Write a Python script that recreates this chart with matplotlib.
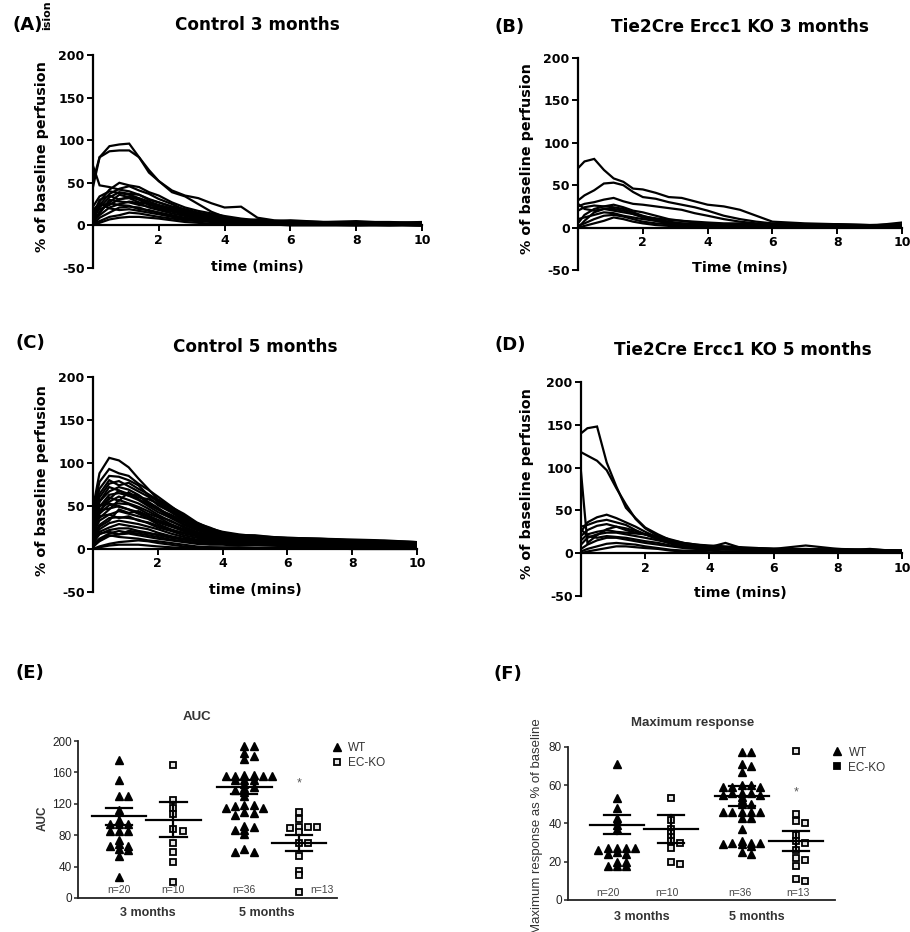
import numpy as np
import matplotlib
matplotlib.use("Agg")
import matplotlib.pyplot as plt
from matplotlib.lines import Line2D

# sampling times (mins) for the perfusion traces
time_min = [0, 0.2, 0.5, 0.8, 1.1, 1.4, 1.7, 2.0, 2.4, 2.8, 3.2, 3.6,
            4.0, 4.5, 5.0, 5.5, 6.0, 7.0, 8.0, 9.0, 10.0]

# (A) control 3 months
ctrl_3m = [
    [45, 80, 93, 95, 96, 80, 65, 52, 41, 35, 32, 26, 21, 22, 9, 6, 5, 4, 3, 3, 2],
    [52, 80, 87, 88, 88, 80, 62, 52, 39, 34, 25, 16, 10, 7, 5, 4, 4, 3, 2, 3, 1],
    [70, 47, 45, 42, 40, 36, 31, 27, 22, 19, 15, 12, 9, 6, 5, 4, 3, 3, 2, 2, 1],
    [5, 28, 42, 50, 47, 45, 39, 35, 27, 21, 17, 14, 11, 8, 6, 5, 4, 3, 3, 2, 2],
    [3, 24, 37, 43, 46, 41, 37, 31, 25, 18, 14, 12, 9, 7, 5, 4, 3, 2, 3, 2, 1],
    [9, 21, 33, 39, 37, 36, 30, 27, 22, 17, 12, 10, 8, 6, 5, 4, 3, 3, 2, 1, 2],
    [2, 16, 27, 36, 33, 31, 26, 23, 19, 14, 11, 9, 6, 5, 4, 3, 3, 2, 2, 2, 1],
    [11, 19, 24, 31, 32, 27, 25, 20, 17, 12, 10, 7, 6, 5, 4, 3, 3, 2, 1, 2, 1],
    [4, 12, 21, 25, 28, 26, 21, 18, 14, 11, 8, 6, 5, 4, 3, 3, 2, 2, 1, 1, 0],
    [16, 23, 26, 24, 23, 19, 18, 15, 12, 9, 7, 6, 4, 3, 3, 2, 2, 1, 1, 1, 0],
    [1, 9, 15, 21, 22, 21, 17, 15, 11, 8, 6, 5, 4, 3, 2, 2, 1, 1, 1, 0, 1],
    [2, 5, 10, 12, 15, 14, 12, 10, 8, 6, 5, 4, 3, 2, 2, 1, 1, 1, 0, 1, 0],
    [0, 3, 7, 9, 10, 10, 9, 8, 6, 4, 3, 2, 2, 1, 1, 1, 0, 0, 0, 0, 0],
    [22, 34, 40, 38, 36, 32, 28, 24, 20, 16, 13, 11, 8, 6, 5, 4, 3, 3, 2, 2, 1],
    [12, 30, 35, 30, 34, 30, 24, 22, 18, 15, 12, 9, 7, 6, 7, 5, 6, 4, 5, 3, 4],
    [6, 14, 30, 28, 27, 24, 22, 19, 16, 13, 9, 8, 7, 5, 6, 4, 5, 3, 4, 4, 3],
    [18, 26, 20, 18, 19, 17, 15, 13, 10, 7, 6, 5, 5, 4, 4, 3, 4, 2, 3, 2, 3],
]

# (B) Tie2Cre Ercc1 KO 3 months
ko_3m = [
    [70, 78, 81, 68, 58, 54, 46, 45, 41, 36, 35, 31, 27, 25, 21, 14, 7, 5, 4, 3, 4],
    [32, 38, 44, 52, 53, 50, 42, 36, 34, 30, 27, 24, 20, 14, 10, 7, 5, 4, 4, 3, 3],
    [25, 28, 30, 33, 35, 31, 28, 27, 25, 23, 21, 17, 14, 10, 7, 5, 4, 3, 3, 2, 2],
    [20, 24, 26, 25, 27, 24, 20, 18, 14, 10, 8, 6, 5, 4, 4, 3, 3, 2, 2, 2, 1],
    [5, 15, 22, 25, 24, 22, 18, 14, 10, 7, 5, 4, 4, 3, 3, 3, 2, 2, 2, 1, 1],
    [0, 8, 18, 22, 22, 20, 16, 12, 8, 5, 4, 3, 3, 2, 2, 2, 1, 1, 1, 1, 0],
    [10, 12, 15, 18, 17, 14, 12, 10, 8, 6, 5, 4, 3, 3, 2, 2, 2, 1, 1, 1, 0],
    [2, 5, 10, 14, 15, 13, 10, 7, 5, 4, 3, 3, 2, 2, 2, 1, 1, 1, 1, 0, 0],
    [0, 2, 5, 8, 12, 10, 7, 5, 3, 2, 2, 1, 1, 1, 1, 1, 0, 0, 0, 0, 0],
    [28, 22, 20, 22, 20, 18, 16, 13, 11, 9, 8, 7, 6, 5, 5, 4, 4, 3, 3, 2, 6],
]

# (C) control 5 months
ctrl_5m = [
    [48, 88, 106, 103, 95, 82, 70, 58, 49, 41, 31, 24, 20, 17, 15, 14, 13, 12, 10, 9, 8],
    [44, 78, 93, 88, 85, 76, 69, 61, 50, 39, 30, 25, 19, 16, 15, 13, 12, 11, 10, 9, 7],
    [40, 70, 85, 84, 80, 74, 63, 55, 45, 37, 28, 22, 18, 16, 14, 12, 12, 10, 9, 8, 7],
    [35, 60, 76, 79, 73, 67, 61, 51, 43, 33, 27, 21, 17, 14, 13, 11, 10, 9, 9, 7, 6],
    [31, 55, 67, 72, 69, 63, 55, 48, 38, 31, 24, 19, 16, 13, 12, 10, 10, 8, 8, 7, 5],
    [28, 49, 63, 65, 62, 57, 50, 43, 36, 28, 22, 18, 14, 12, 11, 9, 9, 8, 7, 6, 5],
    [25, 45, 55, 61, 57, 53, 47, 40, 32, 26, 20, 16, 13, 11, 10, 9, 8, 7, 6, 5, 5],
    [22, 41, 51, 53, 52, 47, 41, 37, 29, 23, 18, 15, 12, 10, 9, 8, 7, 7, 6, 5, 4],
    [52, 45, 47, 50, 46, 43, 38, 32, 27, 21, 16, 13, 11, 10, 8, 7, 7, 6, 5, 5, 4],
    [18, 33, 40, 44, 41, 38, 35, 29, 23, 18, 15, 12, 10, 9, 8, 7, 6, 5, 5, 4, 3],
    [15, 28, 36, 37, 36, 34, 30, 25, 21, 16, 13, 11, 9, 8, 7, 6, 6, 5, 4, 4, 3],
    [12, 23, 30, 33, 31, 29, 26, 23, 18, 14, 11, 10, 8, 7, 6, 6, 5, 4, 4, 3, 3],
    [10, 20, 25, 29, 27, 25, 23, 19, 15, 12, 10, 8, 7, 6, 6, 5, 5, 4, 3, 3, 2],
    [8, 17, 22, 24, 24, 21, 19, 16, 13, 11, 9, 7, 6, 6, 5, 5, 4, 4, 3, 3, 2],
    [5, 12, 18, 21, 19, 18, 16, 14, 11, 9, 7, 6, 6, 5, 5, 4, 4, 3, 3, 2, 2],
    [3, 9, 15, 17, 18, 16, 14, 12, 10, 8, 6, 5, 5, 4, 4, 4, 3, 3, 2, 2, 2],
    [2, 10, 16, 14, 13, 12, 10, 9, 7, 5, 3, 2, 2, 2, 1, 1, 1, 1, 1, 1, 1],
    [0, 3, 6, 8, 9, 10, 9, 7, 5, 3, 2, 2, 1, 1, 1, 1, 1, 1, 0, 0, 0],
    [10, 42, 60, 56, 66, 58, 52, 46, 37, 29, 23, 18, 15, 13, 12, 11, 10, 9, 8, 7, 6],
    [55, 50, 53, 49, 46, 41, 36, 31, 26, 21, 17, 14, 12, 11, 10, 9, 9, 8, 7, 7, 6],
    [20, 55, 72, 68, 62, 60, 58, 53, 44, 35, 26, 20, 17, 15, 14, 13, 12, 11, 10, 9, 8],
    [0, 2, 4, 5, 5, 5, 4, 3, 2, 1, 1, 1, 1, 1, 1, 1, 1, 1, 1, 1, 1],
    [38, 64, 80, 74, 77, 70, 64, 57, 47, 38, 29, 23, 19, 16, 16, 14, 13, 12, 11, 10, 8],
    [30, 50, 58, 68, 64, 62, 53, 46, 40, 32, 25, 21, 17, 15, 13, 12, 11, 10, 9, 8, 6],
    [26, 36, 46, 57, 53, 49, 44, 38, 33, 25, 19, 17, 14, 12, 12, 10, 9, 9, 7, 6, 5],
    [14, 26, 33, 46, 42, 44, 39, 34, 28, 22, 17, 14, 12, 11, 10, 8, 8, 7, 6, 6, 4],
    [42, 38, 40, 36, 38, 33, 31, 27, 22, 19, 15, 12, 11, 9, 9, 8, 7, 6, 6, 5, 4],
    [6, 18, 20, 17, 21, 20, 18, 17, 14, 11, 9, 8, 7, 7, 6, 6, 5, 5, 4, 4, 3],
]

# (D) Tie2Cre Ercc1 KO 5 months
ko_5m = [
    [140, 146, 148, 106, 78, 53, 41, 30, 22, 15, 12, 10, 9, 8, 7, 6, 5, 5, 4, 4, 3],
    [118, 114, 108, 97, 76, 57, 40, 29, 20, 14, 11, 9, 8, 7, 6, 5, 5, 4, 4, 3, 3],
    [95, 12, 21, 28, 31, 29, 26, 22, 17, 12, 9, 8, 7, 6, 5, 5, 4, 4, 3, 3, 2],
    [25, 36, 42, 45, 41, 36, 31, 25, 18, 12, 9, 8, 7, 7, 6, 5, 5, 4, 4, 3, 3],
    [31, 33, 37, 39, 36, 33, 27, 22, 16, 11, 8, 7, 7, 6, 5, 5, 4, 4, 3, 3, 2],
    [20, 27, 32, 34, 31, 27, 24, 22, 18, 14, 10, 8, 7, 12, 6, 5, 5, 4, 5, 3, 3],
    [15, 22, 25, 27, 25, 24, 23, 22, 20, 16, 12, 10, 8, 7, 6, 6, 5, 9, 5, 4, 3],
    [10, 18, 22, 24, 24, 22, 20, 18, 15, 12, 9, 7, 6, 5, 5, 4, 4, 3, 3, 5, 2],
    [5, 10, 15, 18, 18, 16, 14, 12, 10, 8, 6, 5, 5, 4, 4, 3, 3, 3, 2, 2, 2],
    [2, 5, 8, 11, 12, 11, 10, 8, 6, 4, 3, 3, 3, 2, 2, 2, 2, 2, 1, 1, 1],
    [0, 2, 4, 6, 8, 8, 7, 6, 5, 3, 2, 2, 1, 1, 1, 1, 1, 1, 1, 1, 1],
    [28, 20, 18, 20, 19, 18, 16, 14, 12, 9, 7, 6, 5, 5, 4, 4, 4, 3, 3, 3, 2],
]

# (E) AUC per animal
auc_wt_3m = [176, 150, 130, 130, 112, 100, 94, 94, 94, 85, 85, 85, 74, 69, 66, 66, 63, 61, 54, 27]
auc_ko_3m = [169, 125, 115, 107, 88, 85, 70, 58, 46, 21]
auc_wt_5m = [194, 194, 185, 181, 177, 157, 157, 156, 156, 155, 155, 150, 150, 150, 145, 142,
             140, 138, 135, 130, 119, 119, 117, 115, 115, 109, 108, 106, 92, 91, 87, 87, 82, 63, 59, 59]
auc_ko_5m = [110, 101, 91, 90, 89, 91, 84, 70, 70, 54, 34, 29, 8]
auc_mean = [104, 100, 141, 70]
auc_sem = [11, 22, 9, 10]

# (F) maximum response (% of baseline)
maxr_wt_3m = [71, 53, 48, 43, 41, 39, 37, 27, 27, 27, 27, 26, 25, 24, 24, 20, 20, 18, 18, 18]
maxr_ko_3m = [53, 42, 37, 35, 33, 31, 30, 27, 20, 19]
maxr_wt_5m = [77, 77, 71, 70, 67, 60, 60, 59, 59, 59, 56, 56, 56, 55, 55, 54, 52, 50, 50, 46, 46,
              46, 46, 46, 43, 43, 37, 31, 30, 30, 30, 29, 29, 28, 25, 24]
maxr_ko_5m = [78, 45, 41, 40, 34, 31, 30, 26, 22, 21, 18, 11, 10]
maxr_mean = [39.3, 37, 54.5, 30.8]
maxr_sem = [5, 7.3, 5.2, 5.4]

n_labels = ["n=20", "n=10", "n=36", "n=13"]

W, H = 910, 932
fig = plt.figure(figsize=(W / 100, H / 100), dpi=100)
BOLD = dict(family="DejaVu Sans", fontweight="bold", color="black")
ARIAL = "Liberation Sans"


def rect(x0, y_top, x1, y_bot):
    return [x0 / W, 1 - y_bot / H, (x1 - x0) / W, (y_bot - y_top) / H]


def ftext(x, y, s, **kw):
    fig.text(x / W, 1 - y / H, s, ha=kw.pop("ha", "center"), va=kw.pop("va", "center"), **kw)


def trace_panel(r, traces):
    ax = fig.add_axes(r)
    for tr in traces:
        ax.plot(time_min, tr, color="black", lw=1.6, solid_joinstyle="miter")
    ax.set_xlim(0, 10)
    ax.set_ylim(-50, 200)
    for s in ("top", "right"):
        ax.spines[s].set_visible(False)
    ax.spines["bottom"].set_position(("data", 0))
    ax.spines["left"].set_linewidth(1.6)
    ax.spines["bottom"].set_linewidth(1.6)
    ax.set_xticks([0, 2, 4, 6, 8, 10])
    ax.set_xticklabels(["", "2", "4", "6", "8", "10"], fontdict=dict(family="DejaVu Sans", fontweight="bold"))
    ax.set_yticks([-50, 0, 50, 100, 150, 200])
    ax.set_yticklabels(["-50", "0", "50", "100", "150", "200"], fontdict=dict(family="DejaVu Sans", fontweight="bold"))
    ax.tick_params(direction="out", length=4, width=1.4, labelsize=9, pad=2)
    return ax


trace_panel(rect(93, 55, 422, 268), ctrl_3m)
trace_panel(rect(578, 58, 902, 270), ko_3m)
trace_panel(rect(93, 377, 417, 592), ctrl_5m)
trace_panel(rect(581, 382, 902, 596), ko_5m)

# titles, letters and axis labels of the trace panels
for x, y, s in [(28, 25, "(A)"), (510, 27, "(B)"), (30, 343, "(C)"), (510, 345, "(D)")]:
    ftext(x, y, s, fontsize=13, **BOLD)
for x, y, s in [(257, 25, "Control 3 months"), (740, 27, "Tie2Cre Ercc1 KO 3 months"),
                (255, 347, "Control 5 months"), (743, 350, "Tie2Cre Ercc1 KO 5 months")]:
    ftext(x, y, s, fontsize=12.2, **BOLD)
for x, y, s in [(257, 267, "time (mins)"), (740, 268, "Time (mins)"),
                (255, 590, "time (mins)"), (740, 593, "time (mins)")]:
    ftext(x, y, s, fontsize=10.3, **BOLD)
for x, y in [(42, 157), (527, 159), (42, 481), (527, 484)]:
    ftext(x, y, "% of baseline perfusion", fontsize=10.3, rotation=90, **BOLD)
ftext(47, 0, "ision", fontsize=8, rotation=90, va="top", **BOLD)

positions = [1, 2, 3.3, 4.3]


def swarm(vals, pos, dy_thr, dx):
    # greedy beeswarm: try centre, then alternate left/right slots
    placed = []
    xs = []
    for v in vals:
        k = 0
        while True:
            off = ((k + 1) // 2) * dx * (1 if k % 2 else -1)
            if all(abs(v - pv) >= dy_thr or abs(pos + off - px) >= dx * 0.9 for px, pv in placed):
                break
            k += 1
        placed.append((pos + off, v))
        xs.append(pos + off)
    return xs


def dot_panel(r, groups, means, sems, lims, yticks, dy_thr, n_pos, n_y, star):
    ax = fig.add_axes(r)
    for i, vals in enumerate(groups):
        xs = swarm(vals, positions[i], dy_thr, 0.17)
        if i % 2 == 0:
            ax.plot(xs, vals, ls="none", marker="^", ms=5.5, color="black", clip_on=False)
        else:
            ax.plot(xs, vals, ls="none", marker="s", ms=4.2, mfc="#e6e6e6", mec="black", mew=1.3, clip_on=False)
        p = positions[i]
        ax.plot([p - 0.5, p + 0.5], [means[i], means[i]], color="black", lw=1.6)
        ax.plot([p, p], [means[i] - sems[i], means[i] + sems[i]], color="black", lw=1.6)
        for e in (-1, 1):
            ax.plot([p - 0.24, p + 0.24], [means[i] + e * sems[i]] * 2, color="black", lw=1.6)
        ax.text(n_pos[i], n_y, n_labels[i], ha="center", va="center", fontsize=7.5, family=ARIAL, color="#444")
    ax.text(positions[3], star, "*", ha="center", va="center", fontsize=9, color="#555", family=ARIAL)
    ax.set_xlim(*lims[0])
    ax.set_ylim(*lims[1])
    ax.set_yticks(yticks)
    ax.set_xticks([])
    for s in ("top", "right"):
        ax.spines[s].set_visible(False)
    for s in ("left", "bottom"):
        ax.spines[s].set_linewidth(1.3)
        ax.spines[s].set_color("#222")
    ax.tick_params(axis="y", direction="out", length=3, width=1.1, labelsize=8.5, pad=1.5, colors="#222")
    for lbl in ax.get_yticklabels():
        lbl.set_family(ARIAL)
    return ax


axE = dot_panel(rect(78, 741, 337, 898), [auc_wt_3m, auc_ko_3m, auc_wt_5m, auc_ko_5m],
                auc_mean, auc_sem, ((0.25, 5.0), (0, 200)), [0, 40, 80, 120, 160, 200],
                4.5, [1, 2, 3.3, 4.72], 10, 146)
axF = dot_panel(rect(568, 746.7, 835, 900), [maxr_wt_3m, maxr_ko_3m, maxr_wt_5m, maxr_ko_5m],
                maxr_mean, maxr_sem, ((0.1, 5.02), (0, 80)), [0, 20, 40, 60, 80],
                1.9, [0.83, 1.92, 3.27, 4.34], 3.7, 56)

# legends
for ax, anchor, ko_face in [(axE, (0.93, 1.06), "#e6e6e6"), (axF, (0.94, 1.07), "black")]:
    hs = [Line2D([], [], ls="none", marker="^", ms=5.5, color="black"),
          Line2D([], [], ls="none", marker="s", ms=4.2, mfc=ko_face, mec="black", mew=1.3)]
    leg = ax.legend(hs, ["WT", "EC-KO"], loc="upper left", bbox_to_anchor=anchor, frameon=False,
                    handletextpad=0.4, handlelength=1.2, labelspacing=0.25,
                    prop=dict(family=ARIAL, size=8.5))
    for t in leg.get_texts():
        t.set_color("#333")

ftext(30, 673, "(E)", fontsize=13, **BOLD)
ftext(508, 674, "(F)", fontsize=13, **BOLD)
ftext(197, 717, "AUC", fontsize=9.5, family=ARIAL, fontweight="bold", color="#333")
ftext(693, 723, "Maximum response", fontsize=9.5, family=ARIAL, fontweight="bold", color="#333")
ftext(43, 818, "AUC", fontsize=8.5, family=ARIAL, fontweight="bold", color="#333", rotation=90)
ftext(537, 718, "Maximum response as % of baseline", fontsize=9.5, family=ARIAL, color="#333",
      rotation=90, va="top")
for x, y, s in [(148, 913, "3 months"), (267, 913, "5 months"), (642, 917, "3 months"), (757, 917, "5 months")]:
    ftext(x, y, s, fontsize=9, family=ARIAL, fontweight="bold", color="#333")

fig.savefig("out.png", dpi=100)
